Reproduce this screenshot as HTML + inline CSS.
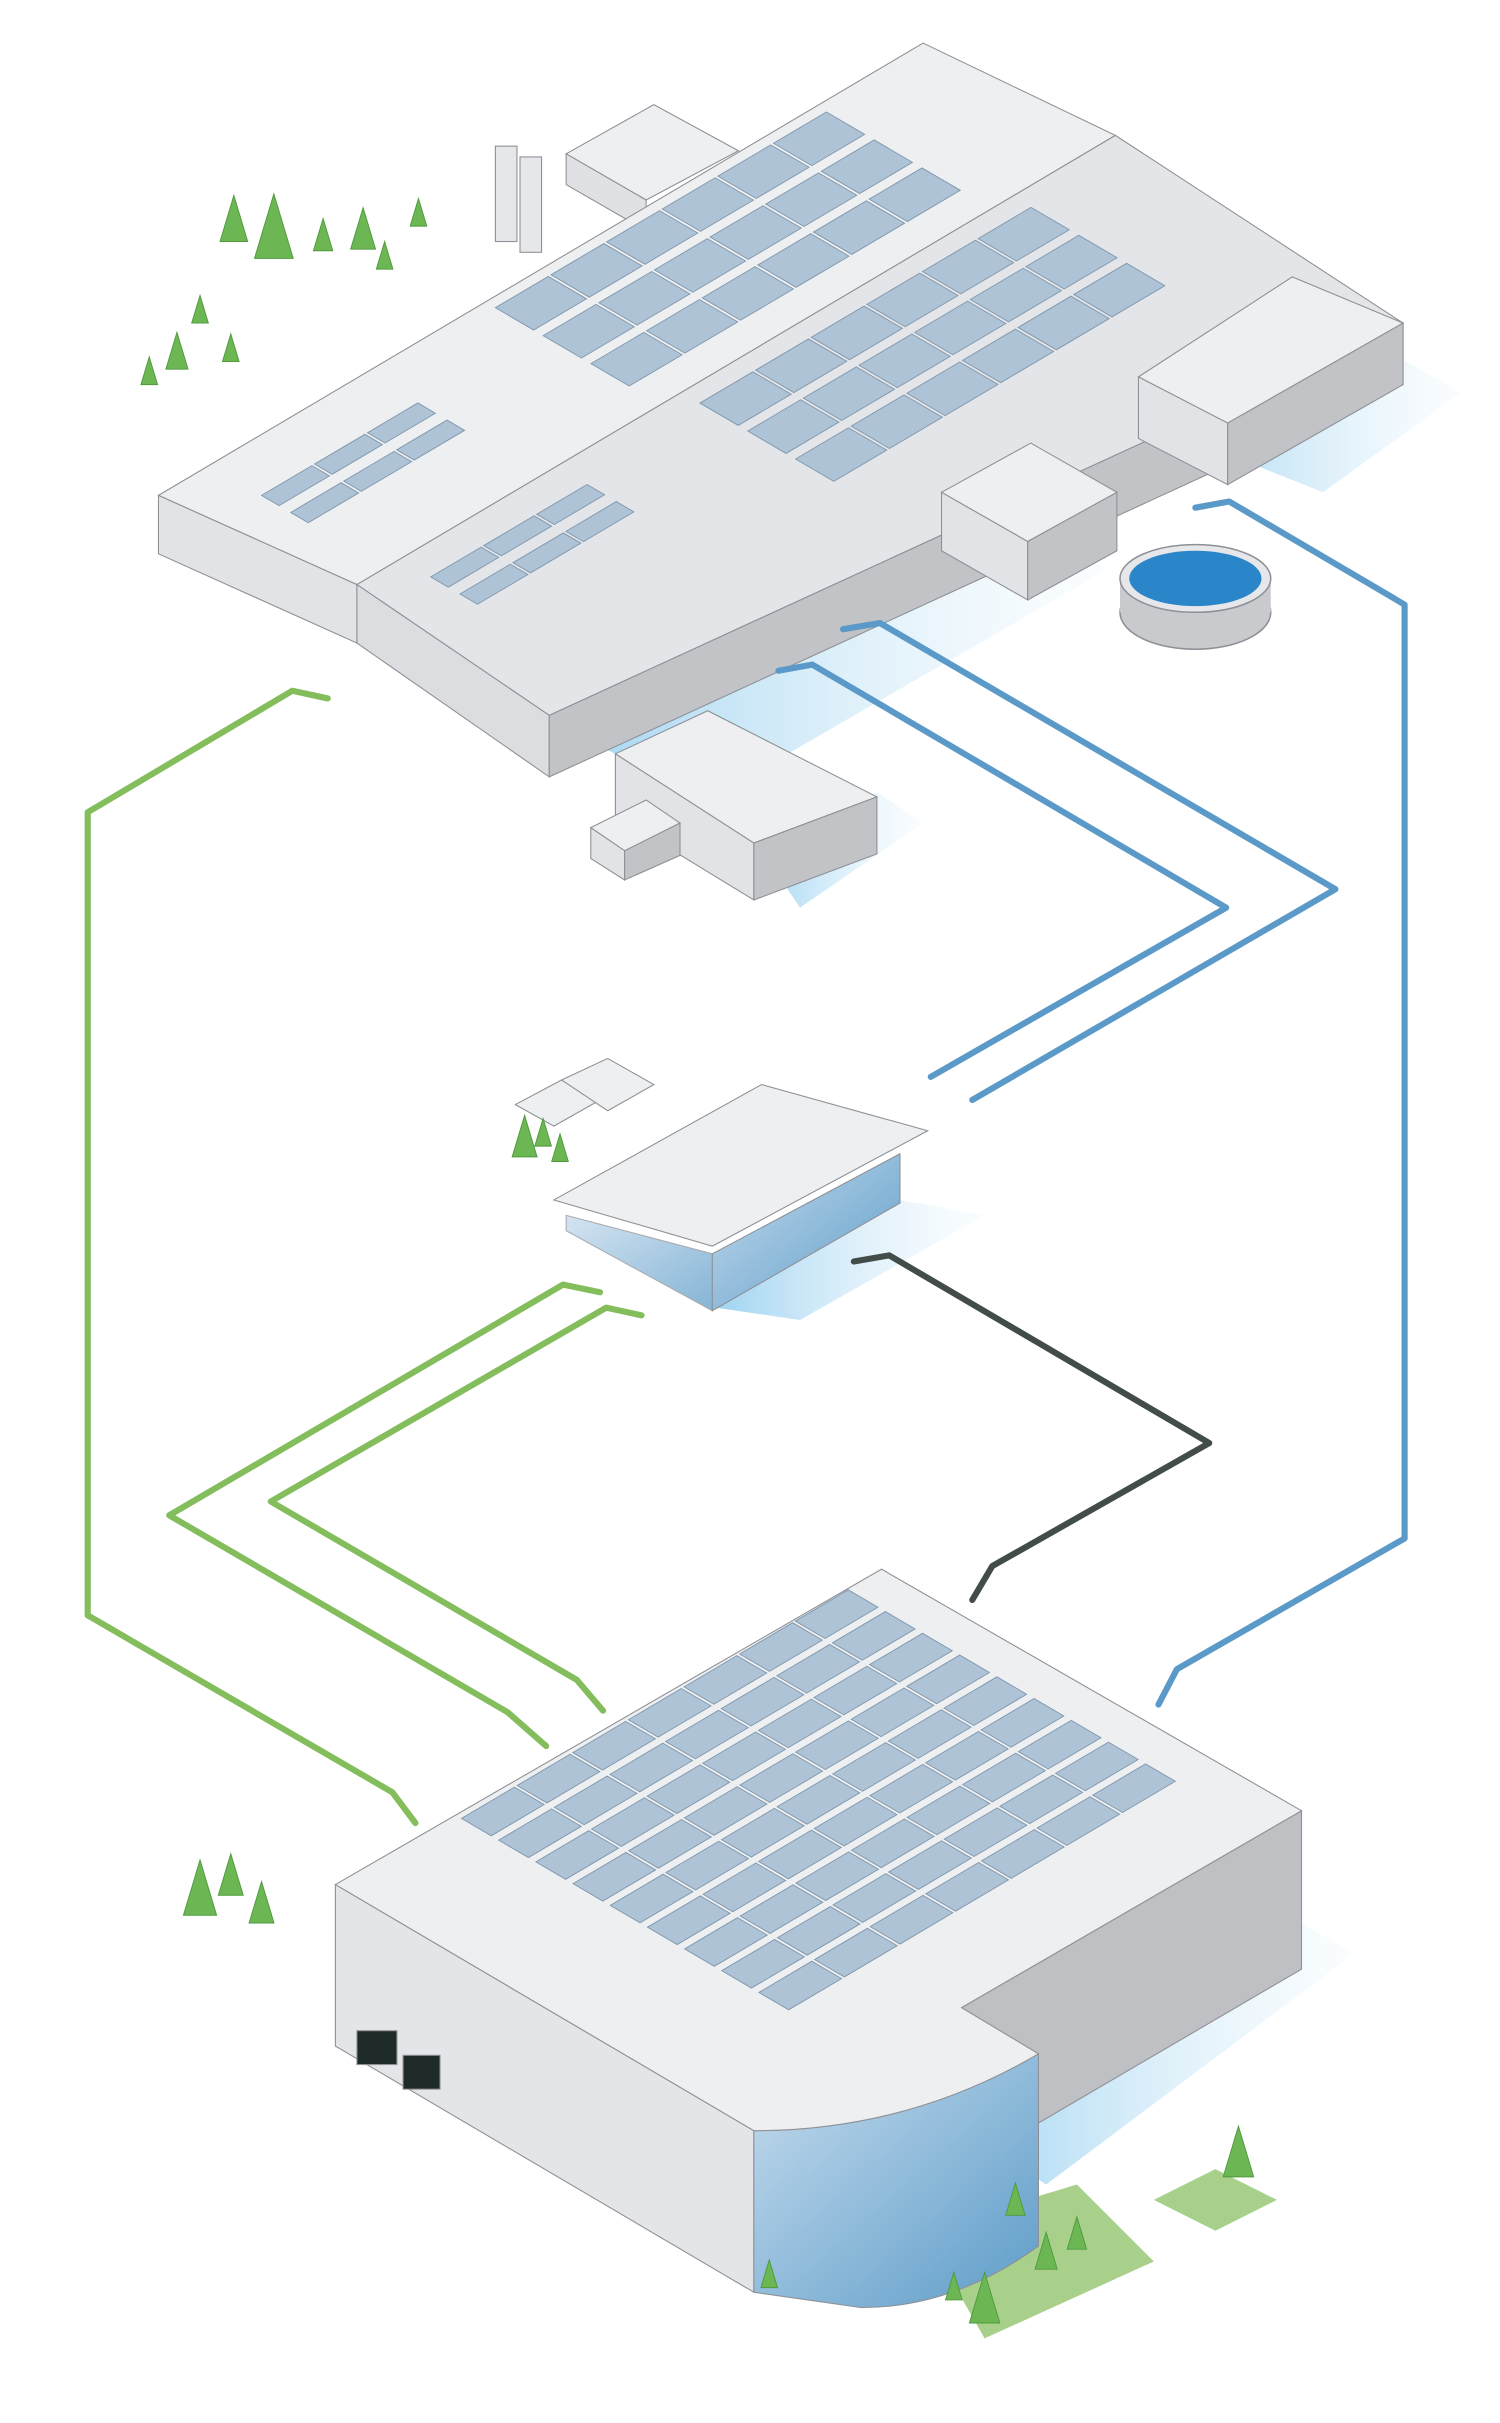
<!DOCTYPE html>
<html><head><meta charset="utf-8"><style>html,body{margin:0;padding:0;background:#fff}svg{display:block}</style></head>
<body>
<svg id="s" width="1500" height="2423" viewBox="0 0 975 1575" xmlns="http://www.w3.org/2000/svg">
<defs>
<linearGradient id="sh" x1="0" y1="0" x2="1" y2="0"><stop offset="0" stop-color="#9fd3f1"/><stop offset="1" stop-color="#e8f5fc" stop-opacity="0.2"/></linearGradient>
<linearGradient id="gl" x1="0" y1="0" x2="1" y2="1"><stop offset="0" stop-color="#c6dcee"/><stop offset="1" stop-color="#5d9cc8"/></linearGradient>
</defs>
<g stroke="#8e9095" stroke-width="0.7">
<polygon points="360,470 620,320 720,370 460,520" fill="url(#sh)" stroke="none"/>
<polygon points="850,200 950,255 860,320 760,280" fill="url(#sh)" stroke="none"/>
<polygon points="368,100 425,68 480,98 420,130" fill="#eeeff1"/>
<polygon points="368,100 420,130 420,150 368,120" fill="#e0e1e4"/>
<polygon points="103,322 600,28 725,88 232,380" fill="#eeeff1"/>
<polygon points="232,380 725,88 912,210 357,465" fill="#e4e5e8"/>
<polygon points="103,322 232,380 232,418 103,360" fill="#e2e3e6"/>
<polygon points="232,380 357,465 357,505 232,418" fill="#dcdde0"/>
<polygon points="357,465 912,210 912,250 357,505" fill="#c2c3c7"/>
<polygon points="740,245 840,180 912,210 798,275" fill="#eeeff1"/>
<polygon points="740,245 798,275 798,315 740,285" fill="#e2e3e6"/>
<polygon points="798,275 912,210 912,250 798,315" fill="#c2c3c7"/>
<polygon points="612,320 670,288 726,320 668,352" fill="#eeeff1"/>
<polygon points="612,320 668,352 668,390 612,358" fill="#e2e3e6"/>
<polygon points="668,352 726,320 726,358 668,390" fill="#c2c3c7"/>
<rect x="322" y="95" width="14" height="62" fill="#e6e7ea"/><rect x="338" y="102" width="14" height="62" fill="#e6e7ea"/>
</g>
<g>
<ellipse cx="777" cy="398" rx="49" ry="24" fill="#c9cacd" stroke="#8e9095"/>
<rect x="728" y="376" width="98" height="22" fill="#c9cacd"/>
<ellipse cx="777" cy="376" rx="49" ry="22" fill="#e6e7ea" stroke="#8e9095"/>
<ellipse cx="777" cy="376" rx="43" ry="18" fill="#2a85c9"/>
</g>
<g stroke="#8e9095" stroke-width="0.7">
<polygon points="490,545 570,515 600,535 520,590" fill="url(#sh)" stroke="none"/>
<polygon points="400,490 460,462 570,518 490,548" fill="#eeeff1"/>
<polygon points="400,490 490,548 490,585 400,530" fill="#e2e3e6"/>
<polygon points="490,548 570,518 570,555 490,585" fill="#c2c3c7"/>
<polygon points="384,538 420,520 442,535 406,553" fill="#eeeff1"/>
<polygon points="384,538 406,553 406,572 384,558" fill="#e2e3e6"/>
<polygon points="406,553 442,535 442,556 406,572" fill="#c2c3c7"/>
</g>
<g stroke="#8e9095" stroke-width="0.7">
<polygon points="465,850 585,780 640,790 520,858" fill="url(#sh)" stroke="none"/>
<polygon points="368,790 463,815 463,852 368,800" fill="url(#gl)" opacity="0.75"/>
<polygon points="463,815 585,750 585,782 463,852" fill="url(#gl)"/>
<polygon points="360,780 495,705 603,735 463,810" fill="#eeeff1"/>
<polygon points="335,718 365,702 390,715 360,732" fill="#eeeff1"/>
<polygon points="365,702 395,688 425,705 395,722" fill="#eeeff1"/>
</g>
<g stroke="#8e9095" stroke-width="0.7">
<polygon points="620,1380 846,1250 880,1270 680,1420" fill="url(#sh)" stroke="none"/>
<polygon points="600,1450 700,1420 750,1470 640,1520" fill="#a8d08b" stroke="none"/>
<polygon points="750,1430 790,1410 830,1430 790,1450" fill="#a8d08b" stroke="none"/>
<polygon points="218,1225 218,1330 490,1490 490,1385" fill="#e4e5e8"/>
<polygon points="625,1305 846,1177 846,1280 675,1380" fill="#bfc0c4"/>
<path d="M490,1385 Q590,1385 675,1335 L675,1460 Q620,1500 560,1500 L490,1490 Z" fill="url(#gl)"/>
<path d="M218,1225 L573,1020 L846,1177 L625,1305 Q675,1335 675,1335 Q590,1385 490,1385 Z" fill="#eeeff1"/>
<rect x="232" y="1320" width="26" height="22" fill="#1e2b28"/><rect x="262" y="1336" width="24" height="22" fill="#1e2b28"/>
</g>
<g id="panels"></g>
<g id="pipes" fill="none" stroke-width="4" stroke-linejoin="round" stroke-linecap="round">
<polyline stroke="#84bd5c" points="213,454 190,449 57,528 57,1050 255,1165 270,1185"/>
<polyline stroke="#84bd5c" points="390,840 366,835 110,985 330,1113 355,1135"/>
<polyline stroke="#84bd5c" points="417,855 394,850 176,976 375,1092 392,1112"/>
<polyline stroke="#5b9ac8" points="506,436 528,432 797,590 605,700"/>
<polyline stroke="#5b9ac8" points="548,409 572,405 868,578 632,715"/>
<polyline stroke="#5b9ac8" points="777,330 799,326 913,393 913,1000 765,1085 753,1108"/>
<polyline stroke="#424d49" points="555,820 578,816 786,938 645,1018 632,1040"/>
</g>
<g id="trees"></g>
</svg>
<script>
const NS='http://www.w3.org/2000/svg';
const pg=document.getElementById('panels');
function panelGrid(ox,oy,nu,nv,su,sv,hf){
 const ux=0.861,uy=-0.509,vx=0.863,vy=0.505;
 for(let i=0;i<nu;i++)for(let j=0;j<nv;j++){
  const x=ox+i*su*ux+j*sv*vx,y=oy+i*su*uy+j*sv*vy;
  const w=su*0.95,h=sv*hf;
  const p=document.createElementNS(NS,'polygon');
  p.setAttribute('points',[[x,y],[x+w*ux,y+w*uy],[x+w*ux+h*vx,y+w*uy+h*vy],[x+h*vx,y+h*vy]].map(a=>a.join(',')).join(' '));
  p.setAttribute('fill','#aec3d6');p.setAttribute('stroke','#7f97ad');p.setAttribute('stroke-width','0.6');
  
  
  pg.appendChild(p);
 }
}
panelGrid(322,200,6,3,42,36,0.8);
panelGrid(455,262,6,3,42,36,0.8);
panelGrid(170,322,3,2,40,22,0.6);
panelGrid(280,375,3,2,40,22,0.6);
panelGrid(300,1182,7,9,42,28,0.8);
const tg=document.getElementById('trees');
[[178,168,1.4],[152,157,1],[210,163,0.7],[236,162,0.9],[250,175,0.6],[272,147,0.6],[130,210,0.6],[115,240,0.8],[150,235,0.6],[97,250,0.6],[130,1245,1.2],[150,1232,0.9],[170,1250,0.9],[341,752,0.9],[353,745,0.6],[364,755,0.6],[805,1415,1.1],[640,1510,1.1],[680,1475,0.8],[700,1462,0.7],[660,1440,0.7],[500,1487,0.6],[620,1495,0.6]].forEach(([x,y,s])=>{
 const t=document.createElementNS(NS,'polygon');
 t.setAttribute('points',`${x},${y-30*s} ${x+9*s},${y} ${x-9*s},${y}`);
 t.setAttribute('fill','#6cb653');t.setAttribute('stroke','#4e9a3c');t.setAttribute('stroke-width','0.6');
 
 
 tg.appendChild(t);
});
</script>
</body></html>
